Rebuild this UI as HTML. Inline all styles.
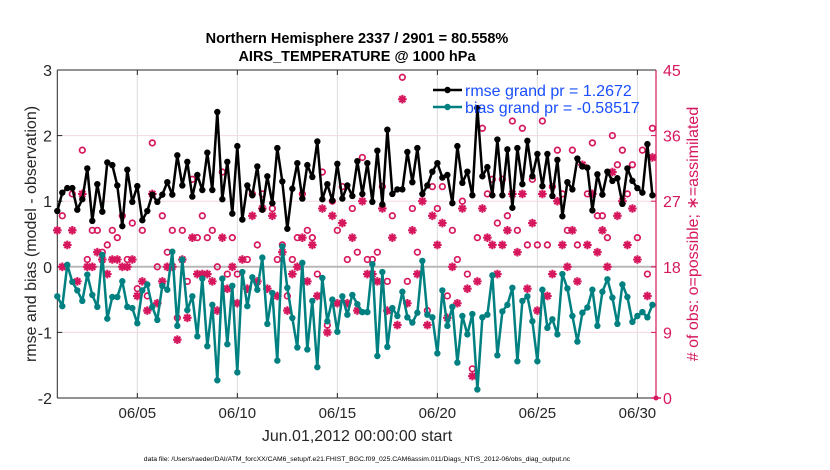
<!DOCTYPE html>
<html><head><meta charset="utf-8"><style>
html,body{margin:0;padding:0;background:#fff;}
svg{display:block;font-family:"Liberation Sans",sans-serif;}
</style></head><body>
<svg id="chart" width="830" height="470" viewBox="0 0 830 470" xmlns="http://www.w3.org/2000/svg">
<g id="grid"></g>
<g id="axes"></g>
<g id="marks"></g>
<g id="labels"></g>
</svg>
<script>
const xTickLabels = ["06/05","06/10","06/15","06/20","06/25","06/30"];
const xTickDays = [4,9,14,19,24,29];
const yLeftTicks = [3,2,1,0,-1,-2];
const yRightTicks = [45,36,27,18,9,0];
const rmse = [0.85,1.13,1.20,
1.20,0.87,1.03,1.50,0.70,1.26,0.84,1.59,1.55,1.24,0.62,1.48,0.99,1.23,0.71,0.85,1.10,0.99,1.10,1.29,1.10,1.70,1.24,1.60,1.07,1.40,1.17,1.74,1.17,2.36,
1.03,1.60,0.81,1.84,0.72,1.24,1.09,1.53,0.87,1.38,0.97,1.81,1.30,0.58,1.19,1.58,1.04,1.55,1.37,1.91,1.03,1.26,1.01,1.57,1.04,1.24,1.08,1.61,1.11,
1.58,0.99,1.77,0.95,2.09,1.11,1.18,1.18,1.75,1.29,1.81,1.11,1.24,1.45,1.58,1.36,1.40,0.97,1.84,1.28,1.45,1.09,2.42,1.38,1.52,1.09,1.94,1.09,1.79,0.90,
1.81,1.26,1.92,1.38,1.72,1.23,1.72,1.08,1.63,0.77,1.29,1.18,1.65,1.53,1.51,0.86,1.41,1.10,1.45,1.31,1.35,0.96,1.50,1.31,1.20,1.13,1.87,1.09];
const bias = [-0.45,-0.60,0.03,
-0.23,-0.36,-0.52,-0.12,-0.43,-0.61,0.18,-0.79,-0.46,-0.46,-0.22,-0.61,-0.63,-0.86,-0.36,-0.27,-0.61,-0.81,-0.29,-0.35,0.23,-0.90,0.11,-0.66,-0.45,-1.06,-0.18,-1.21,-0.58,-1.73,
-0.18,-1.18,-0.29,-1.61,-0.08,-0.60,-0.16,-0.35,0.14,-0.87,-0.40,-1.43,0.31,-0.32,-0.78,-1.23,0.06,-1.26,-0.52,-1.53,-0.17,-0.83,-0.50,-0.99,-0.45,-0.73,-0.43,-0.57,-0.69,
-0.69,0.04,-1.36,-0.08,-1.22,-0.63,-0.75,-0.38,-0.77,-0.85,-0.70,0.09,-0.73,-0.77,-1.32,-0.36,-0.90,-0.61,-1.46,-0.75,-1.03,-0.72,-1.87,-0.77,-0.73,-0.13,-1.35,-0.68,-0.58,-0.32,
-1.44,-0.52,-0.45,-0.83,-1.44,-0.35,-0.93,-0.80,-1.03,-0.11,-0.33,-0.75,-1.14,-0.70,-0.62,-0.35,-0.90,-0.38,-0.19,-0.47,-0.87,-0.27,-0.46,-0.84,-0.75,-0.69,-0.77,-0.58];
const nPossible = [null,25,null,28,null,34,19,23,23,20,21,23,22,25,19,24,15,23,14,35,18,25,20,23,11,23,16,30,22,25,22,23,18,
31,17,22,17,null,19,28,21,28,null,26,19,21,14,19,22,28,23,22,17,31,10,27,23,29,19,26,20,33,
19,19,20,29,16,25,null,44,16,26,20,null,12,29,26,29,14,23,19,27,17,4,22,37,28,30,24,30,25,38,
23,37,21,30,21,38,21,29,34,28,23,34,21,null,28,35,25,25,22,36,32,34,28,32,22,34,17,37];
const nAssim = [23,18,21,23,16,28,18,18,20,19,17,19,19,18,18,19,14,16,12,28,13,16,18,18,8,19,11,22,17,17,17,16,12,
22,15,18,13,19,15,25,16,26,15,25,14,20,12,17,18,22,16,21,14,26,9,25,13,24,13,22,12,27,
17,17,16,26,12,22,10,41,13,23,17,27,10,25,21,24,11,18,13,26,15,3,16,26,22,21,17,21,23,28,
20,28,15,24,12,28,14,17,27,21,18,23,16,32,21,28,20,23,18,31,25,27,21,26,19,null,14,33];

const NS="http://www.w3.org/2000/svg";
const L=57.3,R=656,T=70,B=398;
const PINK="#d6175e",TEAL="#008080";
const xs=d=>L+(d/29.93)*(R-L);
const yl=v=>B-(v+2)/5*(B-T);
const yr=n=>B-n/45*(B-T);
function mk(tag,attrs,parent){const e=document.createElementNS(NS,tag);for(const k in attrs)e.setAttribute(k,attrs[k]);if(parent)parent.appendChild(e);return e;}
const grid=document.getElementById('grid'),axes=document.getElementById('axes'),marks=document.getElementById('marks'),labels=document.getElementById('labels');

mk('rect',{x:L,y:T,width:R-L,height:B-T,fill:'#fff'},grid);
xTickDays.forEach((d,i)=>{
  const l=mk('line',{x1:xs(d),x2:xs(d),y1:T,y2:B,stroke:'#dcdcdc','stroke-width':1},grid);
  
  
  mk('line',{x1:xs(d),x2:xs(d),y1:B,y2:B-5,stroke:'#262626'},axes);
  mk('line',{x1:xs(d),x2:xs(d),y1:T,y2:T+5,stroke:'#262626'},axes);
  const t=mk('text',{x:xs(d),y:418,'text-anchor':'middle','font-size':15,fill:'#262626'},labels);
  t.textContent=xTickLabels[i];
  
  
});
yLeftTicks.forEach(v=>{
  if(v!==3&&v!==-2&&v!==0){
    const g=mk('line',{x1:L,x2:R,y1:yl(v),y2:yl(v),stroke:'#f2d8e0','stroke-width':1},grid);
    
    
  }
  mk('line',{x1:L,x2:L+5,y1:yl(v),y2:yl(v),stroke:'#262626'},axes);
  const t=mk('text',{x:52,y:yl(v)+6,'text-anchor':'end','font-size':16,fill:'#262626'},labels);
  t.textContent=String(v);
  
  
});
yRightTicks.forEach(n=>{
  mk('line',{x1:R-5,x2:R,y1:yr(n),y2:yr(n),stroke:PINK},axes);
  const t=mk('text',{x:663,y:yr(n)+6,'font-size':16,fill:PINK},labels);
  t.textContent=String(n);
  
  
});
const zl=mk('line',{x1:L,x2:R,y1:yl(0),y2:yl(0),stroke:'#b8b8b8','stroke-width':2},grid);


mk('line',{x1:L,x2:R,y1:T,y2:T,stroke:'#262626'},axes);
mk('line',{x1:L,x2:R,y1:B,y2:B,stroke:'#262626'},axes);
mk('line',{x1:L,x2:L,y1:T,y2:B,stroke:'#262626'},axes);
const ra=mk('line',{x1:R,x2:R,y1:T,y2:B,stroke:PINK,'stroke-width':1.2},axes);


mk('circle',{cx:R,cy:B,r:2.5,fill:PINK},axes);
mk('path',{d:`M${R-5} ${B}H${R+5}`,stroke:PINK,'stroke-width':1.5},axes);

const dayOf=i=>i*0.25;
function star(x,y,g){const r=4.3;let d='';for(let a=0;a<4;a++){const t=a*Math.PI/4;d+=`M${x-r*Math.cos(t)} ${y-r*Math.sin(t)}L${x+r*Math.cos(t)} ${y+r*Math.sin(t)}`;}return mk('path',{d:d,stroke:PINK,'stroke-width':2.1},g);}
nPossible.forEach((n,i)=>{ if(n===null)return;
  const c=mk('circle',{cx:xs(dayOf(i)),cy:yr(n),r:2.8,fill:'none',stroke:PINK,'stroke-width':1.7},marks);
  
  
});
nAssim.forEach((n,i)=>{ if(n===null)return;
  const s=star(xs(dayOf(i)),yr(n),marks);
  
  
});
function series(arr,color,name){
  const pts=arr.map((v,i)=>xs(dayOf(i)).toFixed(1)+','+yl(v).toFixed(1)).join(' ');
  const p=mk('polyline',{points:pts,fill:'none',stroke:color,'stroke-width':2.5,'stroke-linejoin':'round'},marks);
  
  
  arr.forEach((v,i)=>{
    const c=mk('circle',{cx:xs(dayOf(i)),cy:yl(v),r:3.2,fill:color},marks);
    
    
  });
}
series(bias,TEAL,'bias');
series(rmse,'#000','rmse');
</script>
<script>
(function(){
const NS="http://www.w3.org/2000/svg";
const lab=document.getElementById('labels');
function txt(x,y,s,attrs){const t=document.createElementNS(NS,'text');t.setAttribute('x',x);t.setAttribute('y',y);for(const k in attrs)t.setAttribute(k,attrs[k]);t.textContent=s;lab.appendChild(t);return t;}
let t;
t=txt(357,43,'Northern Hemisphere 2337 / 2901 = 80.558%',{'text-anchor':'middle','font-size':14.5,'font-weight':'bold',fill:'#000'});


t=txt(357,61,'AIRS_TEMPERATURE @ 1000 hPa',{'text-anchor':'middle','font-size':14.5,'font-weight':'bold',fill:'#000'});


t=txt(357,441,'Jun.01,2012 00:00:00 start',{'text-anchor':'middle','font-size':16,fill:'#262626'});


t=txt(357,461,'data file: /Users/raeder/DAI/ATM_forcXX/CAM6_setup/f.e21.FHIST_BGC.f09_025.CAM6assim.011/Diags_NTrS_2012-06/obs_diag_output.nc',{'text-anchor':'middle','font-size':6.8,fill:'#000'});


t=txt(0,0,'rmse and bias (model - observation)',{'text-anchor':'middle','font-size':16,fill:'#262626',transform:'translate(36,234) rotate(-90)'});


t=txt(0,0,'# of obs: o=possible; \u2217=assimilated',{'text-anchor':'middle','font-size':16,fill:'#d6175e',transform:'translate(698,234) rotate(-90)'});


const g=document.createElementNS(NS,'g');


lab.appendChild(g);
function ln(y,c){const l=document.createElementNS(NS,'line');l.setAttribute('x1',433);l.setAttribute('x2',462);l.setAttribute('y1',y);l.setAttribute('y2',y);l.setAttribute('stroke',c);l.setAttribute('stroke-width',2.5);g.appendChild(l);const d=document.createElementNS(NS,'circle');d.setAttribute('cx',447.5);d.setAttribute('cy',y);d.setAttribute('r',3.2);d.setAttribute('fill',c);g.appendChild(d);}
ln(90,'#000');ln(107,'#008080');
t=txt(465,96,'rmse grand pr = 1.2672',{'font-size':16,fill:'#1a4fff'});


t=txt(465,113,'bias grand pr = -0.58517',{'font-size':16,fill:'#1a4fff'});


})();
</script>
</body></html>
